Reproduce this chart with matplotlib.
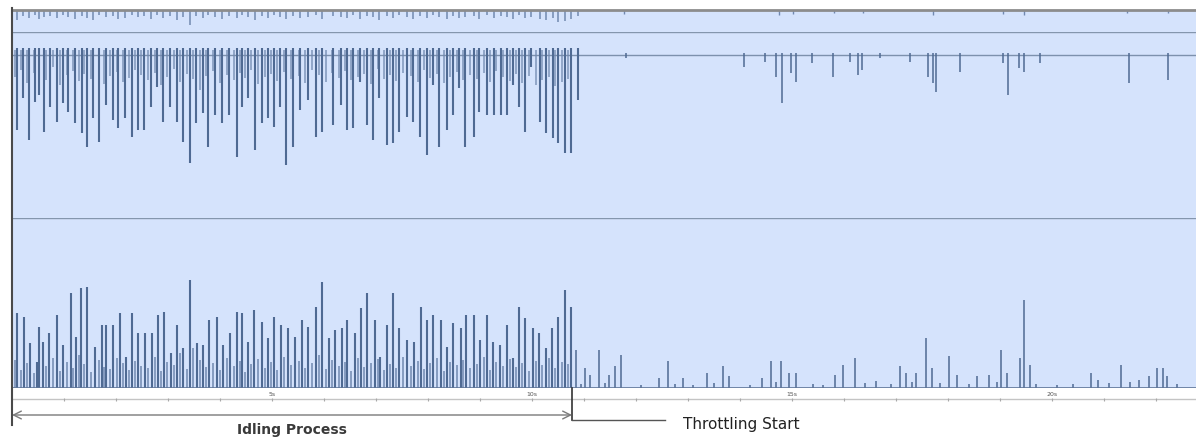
import numpy as np
import matplotlib
matplotlib.use("Agg")
import matplotlib.pyplot as plt
from matplotlib import transforms

# ---------------- data (time in seconds, magnitudes in lane units) ----------------
throttle_start = 10.77
time_max = 22.77
tick_labels = {5: "5s", 10: "10s", 15: "15s", 20: "20s"}

# bottom lane: idle-phase main spikes
bot_idle_t = [0.10,0.23,0.35,0.48,0.52,0.60,0.71,0.87,0.98,1.13,
              1.23,1.33,1.44,1.60,1.73,1.81,1.94,2.08,2.19,2.31,
              2.42,2.56,2.69,2.81,2.92,3.06,3.17,3.29,3.42,3.56,
              3.67,3.79,3.94,4.06,4.19,4.33,4.42,4.54,4.65,4.81,
              4.92,5.04,5.17,5.31,5.44,5.58,5.69,5.85,5.96,6.10,
              6.21,6.35,6.44,6.60,6.71,6.83,6.98,7.08,7.21,7.33,
              7.44,7.60,7.73,7.87,7.98,8.10,8.25,8.37,8.48,8.63,
              8.73,8.88,9.00,9.13,9.25,9.38,9.52,9.63,9.75,9.87,
              10.02,10.13,10.27,10.38,10.50,10.63,10.75]
bot_idle_h = [75,71,45,26,61,46,55,73,43,95,
              51,100,101,41,63,63,63,75,31,75,
              55,55,55,73,76,35,63,40,108,45,
              43,68,71,43,55,76,75,46,78,66,
              50,71,63,60,51,68,61,81,106,50,
              58,60,68,55,80,95,68,31,63,95,
              60,48,46,81,68,73,68,41,65,60,
              73,73,48,73,46,43,63,30,81,70,
              60,55,40,60,71,98,81]

# minor (short) activity between main spikes in idle phase
minor_t = [0.05,0.17,0.29,0.42,0.66,0.79,0.92,1.06,1.18,1.28,
           1.39,1.52,1.67,1.77,1.88,2.01,2.13,2.25,2.37,2.49,
           2.62,2.75,2.87,2.99,3.11,3.23,3.36,3.49,3.62,3.73,
           3.87,4.00,4.13,4.26,4.38,4.48,4.60,4.73,4.87,4.98,
           5.10,5.24,5.37,5.51,5.63,5.77,5.90,6.03,6.15,6.28,
           6.40,6.52,6.66,6.77,6.90,7.03,7.15,7.27,7.39,7.52,
           7.67,7.80,7.93,8.04,8.18,8.31,8.43,8.56,8.68,8.81,
           8.94,9.07,9.19,9.31,9.45,9.58,9.69,9.81,9.95,10.08,
           10.20,10.33,10.44,10.57,10.69]
bot_minor_h = [28,18,25,15,22,30,17,26,20,33,
               24,16,28,21,19,30,25,18,27,22,
               20,31,17,26,23,35,19,40,28,21,
               25,18,30,22,27,16,24,29,20,26,
               18,31,23,27,20,25,33,19,28,22,
               26,17,30,21,25,29,18,24,20,31,
               22,27,19,25,30,17,26,23,28,20,
               24,31,18,26,22,29,21,25,17,27,
               23,30,20,26,24]
mid_minor_d = [22,15,28,18,25,12,30,20,16,26,
               19,24,14,29,21,17,27,23,15,20,
               25,18,30,22,14,27,19,24,35,21,
               16,28,20,25,18,23,15,29,22,19,
               26,17,24,21,28,15,20,27,18,23,
               16,25,22,19,29,14,24,20,26,18,
               21,27,15,23,19,28,22,17,25,20,
               24,18,27,16,22,26,19,28,21,30,
               25,22,31,27,24]

# bottom lane: throttling phase
bot_thr_t = [10.85,11.02,11.12,11.29,11.48,11.60,11.71,12.44,12.62,12.90,
             13.37,13.67,13.79,14.42,14.60,14.79,14.94,15.08,15.83,15.98,
             16.21,16.62,17.08,17.19,17.38,17.58,17.69,18.02,18.17,18.56,
             18.79,19.02,19.13,19.38,19.46,19.58,20.75,20.88,21.33,21.67,
             21.87,22.02,22.13,22.21,
             10.95,11.40,12.10,12.75,13.10,13.50,14.20,14.70,15.40,15.60,
             16.40,16.90,17.30,17.85,18.40,18.95,19.70,20.10,20.40,21.10,
             21.50,22.40]
bot_thr_h = [38,20,13,38,13,22,33,10,27,10,
             15,22,12,10,27,27,15,15,13,23,
             30,7,22,15,15,50,20,32,13,12,
             13,38,15,30,88,23,15,8,23,8,
             12,20,20,12,
             4,5,3,4,3,5,3,6,4,3,
             5,4,6,5,4,6,4,3,4,5,
             6,4]

# middle lane: idle-phase downward spikes (depth below baseline)
mid_idle_t = [0.10,0.21,0.33,0.44,0.52,0.62,0.73,0.87,0.98,1.08,
              1.21,1.35,1.44,1.56,1.67,1.81,1.94,2.04,2.17,2.31,
              2.42,2.54,2.67,2.79,2.90,3.04,3.17,3.29,3.42,3.54,
              3.67,3.77,3.90,4.04,4.17,4.33,4.42,4.54,4.67,4.81,
              4.92,5.04,5.15,5.27,5.40,5.54,5.69,5.85,5.96,6.17,
              6.33,6.44,6.56,6.69,6.83,6.94,7.06,7.21,7.33,7.44,
              7.60,7.71,7.85,7.98,8.10,8.21,8.37,8.48,8.60,8.71,
              8.88,8.98,9.13,9.27,9.40,9.52,9.63,9.75,9.87,9.98,
              10.15,10.27,10.40,10.50,10.63,10.75,10.88]
mid_idle_d = [75,43,85,47,40,77,52,67,48,57,
              68,78,92,63,87,50,65,73,63,82,
              75,75,52,32,67,52,67,87,108,68,
              58,92,60,68,60,102,52,43,95,68,
              63,72,52,110,92,55,45,82,77,70,
              50,75,73,27,70,85,43,90,88,77,
              62,67,82,100,30,92,75,60,33,92,
              82,57,60,60,60,60,30,52,77,12,
              67,78,83,88,98,98,45]

# middle lane: throttling phase
mid_thr_t = [11.81,14.08,14.48,14.69,14.81,14.98,15.08,15.38,15.79,16.12,
             16.27,16.35,16.69,17.27,17.62,17.71,17.77,18.23,19.06,19.15,
             19.37,19.46,19.77,21.48,22.23]
mid_thr_d = [3,12,7,22,48,18,27,8,22,7,
             20,15,3,7,22,28,37,17,8,40,
             13,17,8,28,25]

# top lane: short marks hanging from the top edge
top_idle_d = [10,6,8,5,9,7,6,8,5,7,
              9,6,8,10,5,7,6,9,8,5,
              7,6,9,5,8,6,10,7,15,6,
              8,5,7,9,6,8,5,7,10,6,
              8,5,7,9,6,8,7,5,9,6,
              7,8,5,9,6,7,10,6,8,5,
              7,9,6,8,5,7,9,6,8,7,
              6,9,5,8,6,7,9,5,8,7,
              9,10,8,12,11,9,6]
top_thr_t = [11.77,14.75,15.02,15.81,16.37,17.71,19.06,19.46,21.44,22.23]
top_thr_d = [4,5,4,3,3,5,4,5,3,3]

# ---------------- styling ----------------
BG = "#d5e3fc"
SPIKE = "#4f6a93"
SPIKE_LIGHT = "#7189b0"
DIV = "#8496ad"

W, H = 1196, 441
fig = plt.figure(figsize=(W / 100, H / 100), dpi=100)
fig.patch.set_facecolor("white")

x0 = 12
def lane(top_px, bot_px):
    ax = fig.add_axes([x0 / W, 1 - bot_px / H, (W - x0) / W, (bot_px - top_px) / H])
    ax.set_facecolor(BG)
    ax.set_xlim(0, time_max)
    ax.set_xticks([]); ax.set_yticks([])
    for s in ax.spines.values():
        s.set_visible(False)
    return ax

ax_top = lane(10, 32)
ax_mid = lane(32, 218)
ax_bot = lane(218, 388)

# top lane
ax_top.set_ylim(22, 0)
ax_top.vlines(mid_idle_t, 0, top_idle_d, color=SPIKE_LIGHT, lw=1.1)
ax_top.vlines(top_thr_t, 0, top_thr_d, color=SPIKE_LIGHT, lw=1.0)

# middle lane
ax_mid.set_ylim(163, -23)
ax_mid.axhline(0, color="#7d91ad", lw=1.0, zorder=1)
ax_mid.vlines(minor_t, -5, mid_minor_d, color=SPIKE_LIGHT, lw=1.2, alpha=0.8)
ax_mid.vlines(mid_idle_t, -7, mid_idle_d, color=SPIKE, lw=1.5)
ax_mid.vlines(mid_thr_t, -2, mid_thr_d, color=SPIKE, lw=1.1)
ax_mid.axhline(-23, color=DIV, lw=1.0)

# bottom lane
ax_bot.set_ylim(0, 170)
ax_bot.vlines(minor_t, 0, bot_minor_h, color=SPIKE_LIGHT, lw=1.3, alpha=0.85)
ax_bot.vlines(bot_idle_t, 0, bot_idle_h, color=SPIKE, lw=1.5)
ax_bot.vlines(bot_thr_t, 0, bot_thr_h, color=SPIKE, lw=1.1)
ax_bot.axhline(170, color=DIV, lw=1.0)
ax_bot.axhline(0, color="#5f7598", lw=1.2)

# time strip
ax_t = fig.add_axes([x0 / W, 1 - 405 / H, (W - x0) / W, 17 / H])
ax_t.set_xlim(0, time_max)
ax_t.set_ylim(17, 0)
ax_t.axis("off")
ax_t.axhline(11, color="#c4c4c4", lw=1.0)
sec = np.arange(1, int(time_max) + 1)
ax_t.vlines(sec, 9.5, 12.5, color="#a8a8a8", lw=0.8)
for s, lab in tick_labels.items():
    ax_t.text(s, 6, lab, fontsize=4.5, ha="center", va="center", color="#555555")

# overlay for frame and annotations
ov = fig.add_axes([0, 0, 1, 1])
ov.set_xlim(0, W)
ov.set_ylim(H, 0)
ov.axis("off")
ov.patch.set_alpha(0)

tr = transforms.blended_transform_factory(ax_bot.transData, ov.transData)

ov.plot([x0, W], [10, 10], color="#8c8c8c", lw=2.0)
ov.plot([0, 0], [8, 425], color="#4a4a4a", lw=1.5, transform=tr)

# Idling process double arrow
ov.annotate("", xy=(0, 415), xytext=(throttle_start, 415),
            xycoords=tr, textcoords=tr,
            arrowprops=dict(arrowstyle="<->", color="#7a7a7a", lw=1.0,
                            mutation_scale=14, shrinkA=0, shrinkB=0))
ov.text(throttle_start / 2, 430, "Idling Process", transform=tr,
        ha="center", va="center", fontsize=10, fontweight="bold", color="#3a3a3a")

# Throttling start bracket
ov.plot([throttle_start, throttle_start], [388, 420], color="#333333", lw=1.2, transform=tr)
ov.plot([throttle_start, 12.56], [420, 420], color="#555555", lw=1.0, transform=tr)
ov.text(12.9, 425, "Throttling Start", transform=tr,
        ha="left", va="center", fontsize=11, color="#222222")

fig.savefig("out.png", dpi=100, facecolor="white")
